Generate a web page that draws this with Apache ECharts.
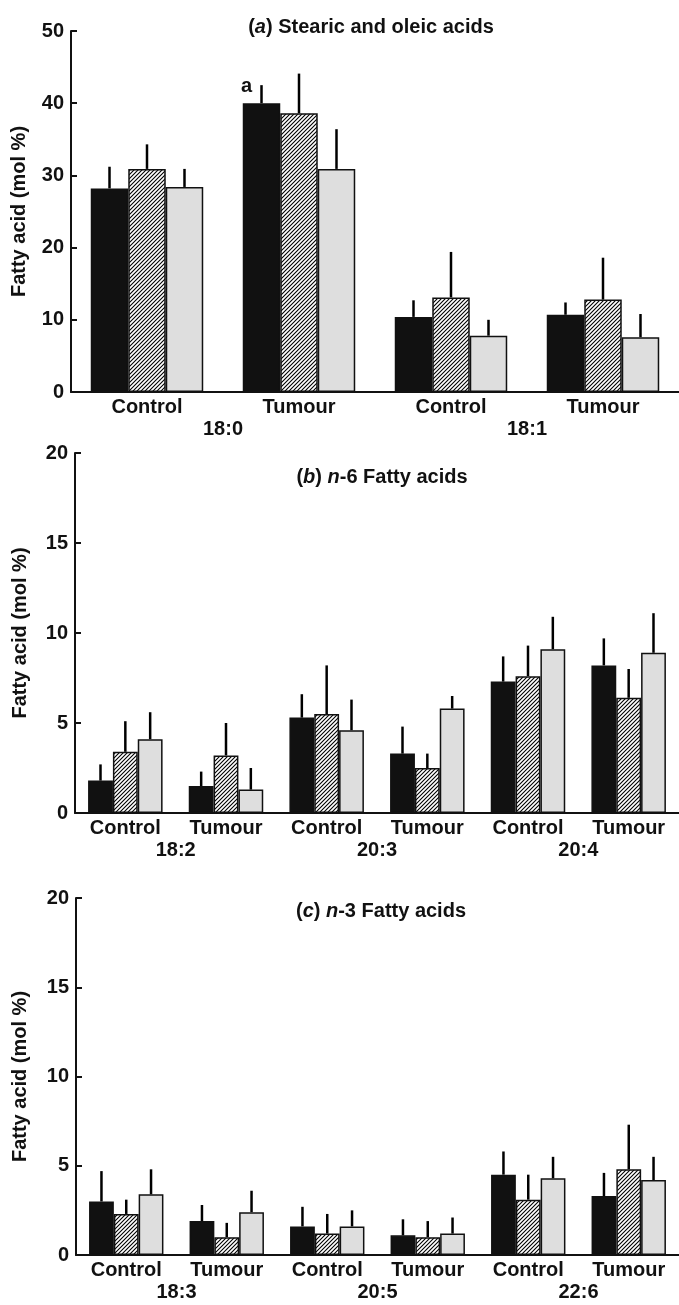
<!DOCTYPE html>
<html>
<head>
<meta charset="utf-8">
<script src="https://cdn.jsdelivr.net/npm/echarts@6/dist/echarts.min.js"></script>
<style>
html,body{margin:0;padding:0;background:#fff;}
#chart{width:679px;height:1305px;}
</style>
</head>
<body>
<div id="chart"></div>
<script>
// ---------- DATA ----------
const groupsA = ['Control', 'Tumour', 'Control', 'Tumour'];
const acidsA = ['18:0', '18:1'];
const aBlack = [28.2, 40.0, 10.4, 10.7];
const aBlackSD = [3.0, 2.5, 2.3, 1.7];
const aBlackMarks = ['', 'a', '', ''];
const aHatch = [30.9, 38.6, 13.1, 12.8];
const aHatchSD = [3.4, 5.5, 6.3, 5.8];
const aGray = [28.4, 30.9, 7.8, 7.6];
const aGraySD = [2.5, 5.5, 2.2, 3.2];

const groupsB = ['Control', 'Tumour', 'Control', 'Tumour', 'Control', 'Tumour'];
const acidsB = ['18:2', '20:3', '20:4'];
const bBlack = [1.8, 1.5, 5.3, 3.3, 7.3, 8.2];
const bBlackSD = [0.9, 0.8, 1.3, 1.5, 1.4, 1.5];
const bHatch = [3.4, 3.2, 5.5, 2.5, 7.6, 6.4];
const bHatchSD = [1.7, 1.8, 2.7, 0.8, 1.7, 1.6];
const bGray = [4.1, 1.3, 4.6, 5.8, 9.1, 8.9];
const bGraySD = [1.5, 1.2, 1.7, 0.7, 1.8, 2.2];

const groupsC = ['Control', 'Tumour', 'Control', 'Tumour', 'Control', 'Tumour'];
const acidsC = ['18:3', '20:5', '22:6'];
const cBlack = [3.0, 1.9, 1.6, 1.1, 4.5, 3.3];
const cBlackSD = [1.7, 0.9, 1.1, 0.9, 1.3, 1.3];
const cHatch = [2.3, 1.0, 1.2, 1.0, 3.1, 4.8];
const cHatchSD = [0.8, 0.8, 1.1, 0.9, 1.4, 2.5];
const cGray = [3.4, 2.4, 1.6, 1.2, 4.3, 4.2];
const cGraySD = [1.4, 1.2, 0.9, 0.9, 1.2, 1.3];

const titles = ['({i|a}) Stearic and oleic acids', '({i|b}) {i|n}-6 Fatty acids', '({i|c}) {i|n}-3 Fatty acids'];
const yName = 'Fatty acid (mol %)';
const yMax = [50, 20, 20];
const yInterval = [10, 5, 5];

// ---------- STYLE / LAYOUT ----------
const FONT = "'Liberation Sans', Arial, sans-serif";
const GAP = 0.26;
const grids = [
  {left: 71, right: 0, top: 31, height: 361},
  {left: 75, right: 0, top: 453, height: 360},
  {left: 76, right: 0, top: 898, height: 357}
];
const titlePos = [{x: 366, y: 12}, {x: 377, y: 462}, {x: 376, y: 896}];
const nameGaps = [42, 45, 46];

function makeHatch() {
  const s = 4;
  const c = document.createElement('canvas');
  c.width = s; c.height = s;
  const g = c.getContext('2d');
  g.fillStyle = '#fff';
  g.fillRect(0, 0, s, s);
  g.strokeStyle = '#000';
  g.lineWidth = 1.1;
  g.beginPath();
  g.moveTo(-1, s + 1); g.lineTo(s + 1, -1);
  g.moveTo(-1, 1); g.lineTo(1, -1);
  g.moveTo(s - 1, s + 1); g.lineTo(s + 1, s - 1);
  g.stroke();
  return c;
}
const hatch = {image: makeHatch(), repeat: 'repeat'};
const fills = ['#111', hatch, '#dedede'];

const panels = [
  {groups: groupsA, acids: acidsA, vals: [aBlack, aHatch, aGray], sds: [aBlackSD, aHatchSD, aGraySD], marks: aBlackMarks},
  {groups: groupsB, acids: acidsB, vals: [bBlack, bHatch, bGray], sds: [bBlackSD, bHatchSD, bGraySD], marks: null},
  {groups: groupsC, acids: acidsC, vals: [cBlack, cHatch, cGray], sds: [cBlackSD, cHatchSD, cGraySD], marks: null}
];

function errRender(k) {
  return function (params, api) {
    const i = api.value(0), v = api.value(1), t = api.value(2);
    const band = api.size([1, 0])[0];
    const bw = band * (1 - GAP) / 3;
    const x = api.coord([i, 0])[0] + (k - 1) * bw;
    const y1 = api.coord([i, v])[1];
    const y2 = api.coord([i, t])[1];
    return {type: 'line', shape: {x1: x, y1: y1, x2: x, y2: y2}, style: {stroke: '#000', lineWidth: 2.5}};
  };
}

const option = {
  animation: false,
  backgroundColor: '#fff',
  title: [], grid: [], xAxis: [], yAxis: [], series: []
};

panels.forEach((p, pi) => {
  option.grid.push(grids[pi]);
  option.title.push({
    text: titles[pi], left: titlePos[pi].x, top: titlePos[pi].y, textAlign: 'center',
    textStyle: {fontFamily: FONT, fontSize: 20, fontWeight: 'bold', color: '#111',
      rich: {i: {fontFamily: FONT, fontSize: 20, fontWeight: 'bold', fontStyle: 'italic', color: '#111'}}}
  });
  option.xAxis.push({
    type: 'category', gridIndex: pi, data: p.groups,
    axisLine: {lineStyle: {color: '#111', width: 2}},
    axisTick: {show: false},
    axisLabel: {fontFamily: FONT, fontSize: 20, fontWeight: 'bold', color: '#111', margin: 5}
  });
  option.xAxis.push({
    type: 'category', gridIndex: pi, data: p.acids, position: 'bottom',
    axisLine: {show: false}, axisTick: {show: false}, splitLine: {show: false},
    axisLabel: {fontFamily: FONT, fontSize: 20, fontWeight: 'bold', color: '#111', margin: 27}
  });
  option.yAxis.push({
    type: 'value', gridIndex: pi, min: 0, max: yMax[pi], interval: yInterval[pi],
    name: yName, nameLocation: 'middle', nameGap: nameGaps[pi],
    nameTextStyle: {fontFamily: FONT, fontSize: 20, fontWeight: 'bold', color: '#111'},
    axisLine: {show: true, lineStyle: {color: '#111', width: 2}},
    axisTick: {show: true, inside: true, length: 6, lineStyle: {color: '#111', width: 2}},
    splitLine: {show: false},
    axisLabel: {fontFamily: FONT, fontSize: 20, fontWeight: 'bold', color: '#111', margin: 7}
  });
  const xi = pi * 2;
  p.vals.forEach((vals, k) => {
    const data = vals.map((v, i) => {
      if (k === 0 && p.marks && p.marks[i]) {
        return {value: v, label: {show: true, formatter: p.marks[i], position: 'top', offset: [-15, -2],
          fontFamily: FONT, fontSize: 20, fontWeight: 'bold', color: '#111'}};
      }
      return v;
    });
    option.series.push({
      type: 'bar', xAxisIndex: xi, yAxisIndex: pi, data: data,
      barGap: 0, barCategoryGap: (GAP * 100) + '%',
      itemStyle: {color: fills[k], borderColor: '#111', borderWidth: 1.5},
      z: 2
    });
  });
  p.vals.forEach((vals, k) => {
    option.series.push({
      type: 'custom', xAxisIndex: xi, yAxisIndex: pi,
      data: vals.map((v, i) => [i, v, v + p.sds[k][i]]),
      renderItem: errRender(k), z: 3
    });
  });
});

const chart = echarts.init(document.getElementById('chart'), null, {renderer: 'canvas'});
chart.setOption(option);
</script>
</body>
</html>
